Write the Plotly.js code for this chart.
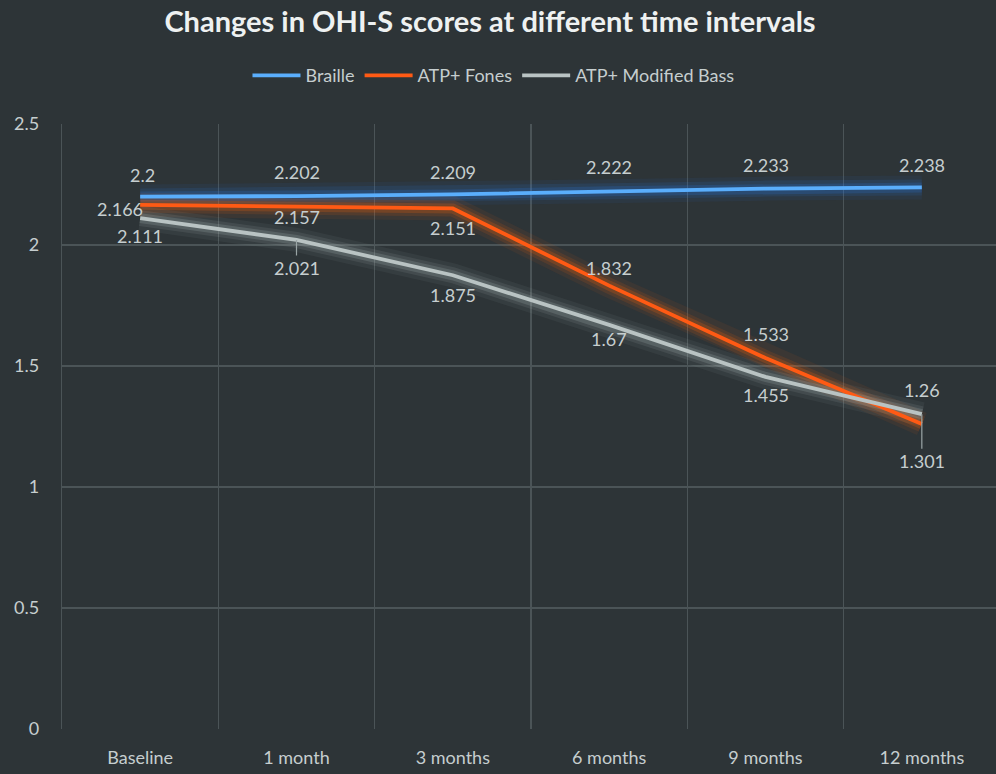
<!DOCTYPE html>
<html>
<head>
<meta charset="utf-8">
<script src="https://cdn.plot.ly/plotly-3.0.1.min.js"></script>
<style>html,body{margin:0;padding:0;background:#2d3437;overflow:hidden;}#chart{width:1000px;height:774px;}</style>
</head>
<body>
<div id="chart"></div>
<script>
const categories = ["Baseline", "1 month", "3 months", "6 months", "9 months", "12 months"];
const seriesNames = ["Braille", "ATP+ Fones", "ATP+ Modified Bass"];
const braille = [2.2, 2.202, 2.209, 2.222, 2.233, 2.238];
const fones = [2.166, 2.157, 2.151, 1.832, 1.533, 1.26];
const modifiedBass = [2.111, 2.021, 1.875, 1.67, 1.455, 1.301];
const yTicks = [0, 0.5, 1, 1.5, 2, 2.5];

const colors = ["#5aaefc", "#ff5a14", "#b9c3c3"];
const glowColors = ["rgba(40,120,230,", "rgba(255,100,10,", "rgba(170,185,185,"];
const allSeries = [braille, fones, modifiedBass];
const FONT = "Lato, 'Open Sans', sans-serif";

const traces = [];
allSeries.forEach((vals, i) => {
  [[24, 0.07], [16, 0.12], [10, 0.2]].forEach(([w, a]) => {
    traces.push({x: categories, y: vals, type: "scatter", mode: "lines",
      line: {color: glowColors[i] + a + ")", width: w}, showlegend: false, hoverinfo: "skip"});
  });
});
allSeries.forEach((vals, i) => {
  traces.push({x: categories, y: vals, type: "scatter", mode: "lines", name: seriesNames[i],
    line: {color: colors[i], width: 3.8}});
});

// label offsets (pixels) per series and point
const labelShift = [
  [22, 24, 22, 24, 24, 22],
  [-4, -10, -20, 18, 24, 34],
  [-18, -28, -20, -14, -18, -47]
];
const labelXShift = [
  [2, 0, 0, 0, 0, 0],
  [-20, 0, 0, 0, 0, 0],
  [0, 0, 0, 0, 0, 0]
];
const annotations = [];
allSeries.forEach((vals, i) => {
  vals.forEach((v, j) => {
    const leader = (i === 2 && (j === 1 || j === 5));
    const a = {x: categories[j], y: v, text: String(v), font: {family: FONT, size: 18, color: "#c6cecf"}};
    if (leader) {
      Object.assign(a, {showarrow: true, arrowhead: 0, arrowwidth: 1.2, arrowcolor: "#9aa5a6", ax: 0, ay: -labelShift[i][j], standoff: 0});
    } else {
      Object.assign(a, {showarrow: false, yshift: labelShift[i][j], xshift: labelXShift[i][j]});
    }
    annotations.push(a);
  });
});

const layout = {
  width: 1000, height: 774,
  paper_bgcolor: "#2d3437", plot_bgcolor: "#2d3437",
  margin: {l: 62, r: 0, t: 124, b: 45},
  title: {text: "<b>Changes in OHI-S scores at different time intervals</b>", x: 0.49, xanchor: "center", y: 0.972, yanchor: "middle",
    font: {family: FONT, size: 29, color: "#eef1f1"}},
  showlegend: true,
  legend: {orientation: "h", x: 0.46, xanchor: "center", y: 1.08, yanchor: "middle", itemwidth: 48,
    font: {family: FONT, size: 18, color: "#c6cecf"}, tracegroupgap: 0},
  xaxis: {type: "category", tickson: "boundaries", range: [-0.5, 5.5], showgrid: true, gridcolor: "#4b5457", gridwidth: 1.2,
    zeroline: false, showline: false, ticks: "", ticklabelstandoff: 16,
    tickfont: {family: FONT, size: 18, color: "#c6cecf"}},
  yaxis: {range: [0, 2.5], tickvals: yTicks, ticktext: yTicks.map(String), showgrid: true, gridcolor: "#4b5457", gridwidth: 1.2,
    zeroline: false, showline: true, linecolor: "#4b5457", linewidth: 1.2, mirror: false, ticks: "", ticklabelstandoff: 18,
    tickfont: {family: FONT, size: 18, color: "#c6cecf"}},
  annotations: annotations
};
Plotly.newPlot("chart", traces, layout, {displayModeBar: false, staticPlot: true});
</script>
</body>
</html>
